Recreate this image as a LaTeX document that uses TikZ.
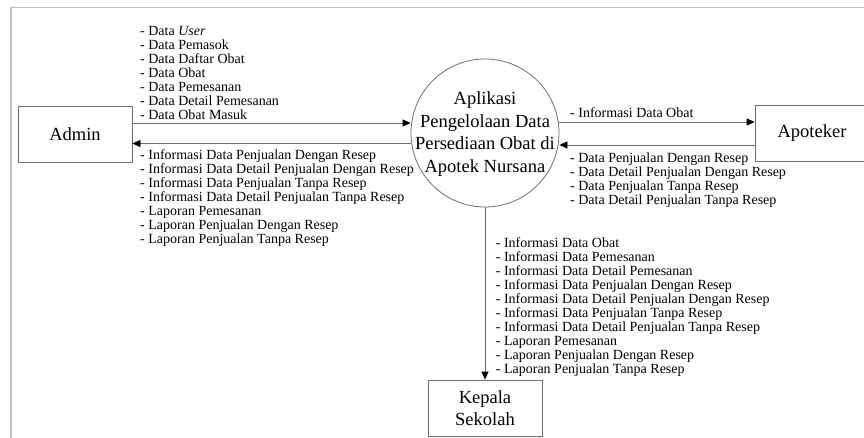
\documentclass[tikz,border=0pt]{standalone}
\usepackage{fontspec}
\setmainfont{Liberation Serif}
\usetikzlibrary{arrows.meta}
\definecolor{framegray}{RGB}{192,192,192}
\definecolor{linegray}{RGB}{110,110,110}
\tikzset{
  entity/.style={draw=linegray, line width=0.8pt, minimum width=114pt,
    minimum height=56pt, inner sep=0pt, align=center,
    font=\fontsize{18.5}{21.5}\selectfont},
  process/.style={circle, draw=linegray, line width=0.8pt,
    minimum size=148pt, inner sep=0pt},
  proctext/.style={align=center, inner sep=0pt,
    font=\fontsize{18.5}{22.5}\selectfont},
  flowlabel/.style={align=left, inner sep=0pt,
    font=\fontsize{14}{14}\selectfont},
  flow/.style={draw=linegray, line width=0.8pt,
    -{Triangle[length=8pt,width=7pt,color=black]}},
}
\begin{document}
\begin{tikzpicture}[x=1pt,y=-1pt]
\useasboundingbox (0,0) rectangle (864,438);
\clip (0,0) rectangle (864,438);

% page frame
\draw[framegray, line width=1.5pt] (11,445) -- (11,7.5) -- (870,7.5);

% external entities and the process
\node[entity] (admin) at (75,134) {Admin};
\node[entity] (apo) at (812,133) {Apoteker};
\node[entity] (kepala) at (485,408) {Kepala\\Sekolah};
\node[process] (proc) at (485,133) {};
\node[proctext] (proclabel) at (485,134)
  {Aplikasi\\Pengelolaan Data\\Persediaan Obat di\\Apotek Nursana};

% data flows
\draw[flow] ([yshift=11pt]admin.east) -- ([yshift=10pt]proc.west);
\draw[flow] ([yshift=-10.5pt]proc.west) -- ([yshift=-9.5pt]admin.east);
\draw[flow] ([yshift=11pt]proc.east) -- ([yshift=11pt]apo.west);
\draw[flow] ([yshift=-12pt]apo.west) -- ([yshift=-12pt]proc.east);
\draw[flow] (proc.south) -- (kepala.north);

% flow labels
\node[flowlabel, anchor=north west] (adminin) at (140,25.7)
  {- Data \textit{User}\\- Data Pemasok\\- Data Daftar Obat\\- Data Obat\\
   - Data Pemesanan\\- Data Detail Pemesanan\\- Data Obat Masuk};
\node[flowlabel, anchor=north west] (adminout) at (140,149.3)
  {- Informasi Data Penjualan Dengan Resep\\
   - Informasi Data Detail Penjualan Dengan Resep\\
   - Informasi Data Penjualan Tanpa Resep\\
   - Informasi Data Detail Penjualan Tanpa Resep\\
   - Laporan Pemesanan\\- Laporan Penjualan Dengan Resep\\
   - Laporan Penjualan Tanpa Resep};
\node[flowlabel, anchor=north west] (apoout) at (570,107.3)
  {- Informasi Data Obat};
\node[flowlabel, anchor=north west] (apoin) at (570,152.7)
  {- Data Penjualan Dengan Resep\\- Data Detail Penjualan Dengan Resep\\
   - Data Penjualan Tanpa Resep\\- Data Detail Penjualan Tanpa Resep};
\node[flowlabel, anchor=north west] (kepalaout) at (495.7,237.7)
  {- Informasi Data Obat\\- Informasi Data Pemesanan\\
   - Informasi Data Detail Pemesanan\\
   - Informasi Data Penjualan Dengan Resep\\
   - Informasi Data Detail Penjualan Dengan Resep\\
   - Informasi Data Penjualan Tanpa Resep\\
   - Informasi Data Detail Penjualan Tanpa Resep\\
   - Laporan Pemesanan\\- Laporan Penjualan Dengan Resep\\
   - Laporan Penjualan Tanpa Resep};
\end{tikzpicture}
\end{document}
